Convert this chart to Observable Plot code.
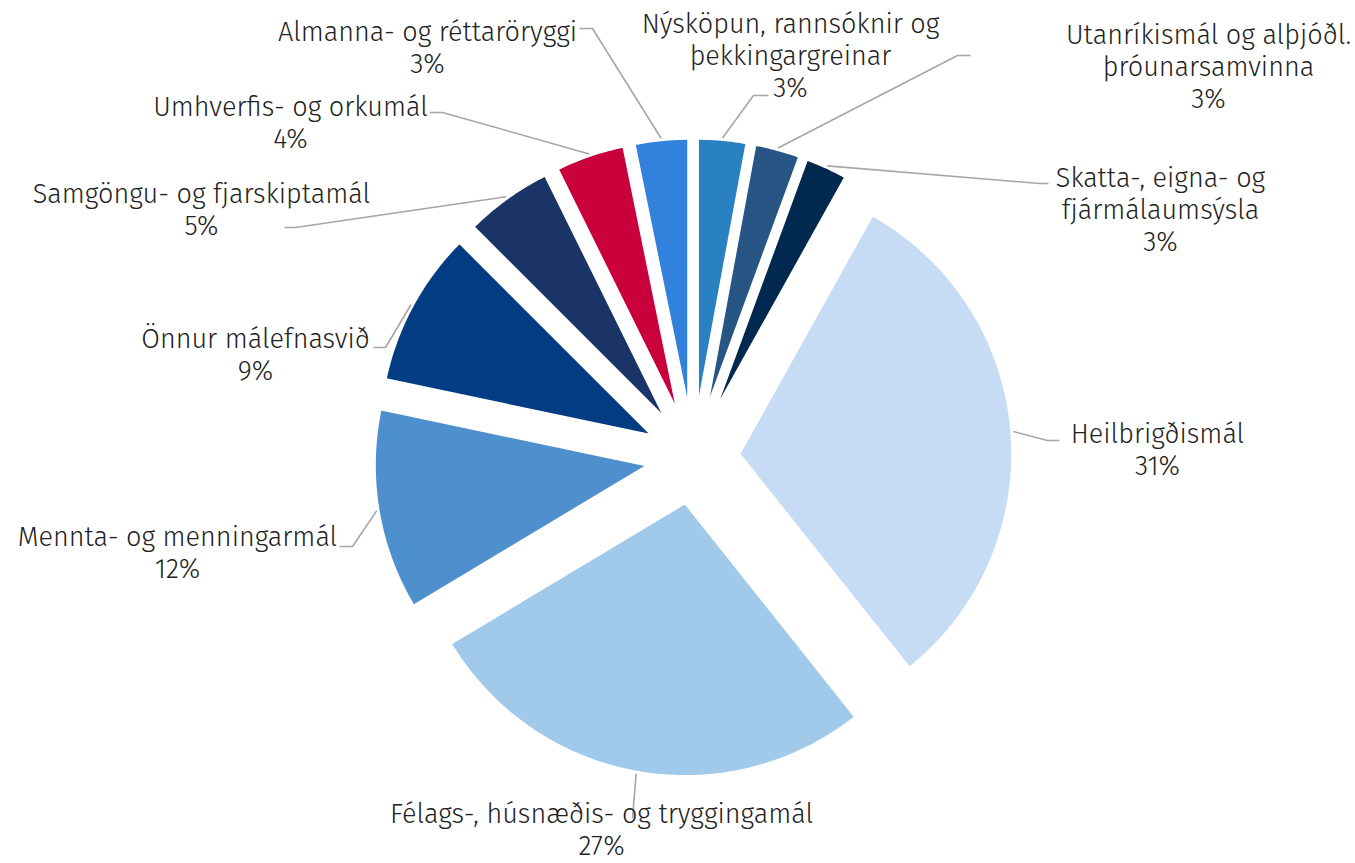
<!DOCTYPE html>
<html><head><meta charset="utf-8">
<script src="https://cdn.jsdelivr.net/npm/d3@7"></script>
<script src="https://cdn.jsdelivr.net/npm/@observablehq/plot@0.6"></script>
<style>html,body{margin:0;padding:0;background:#fff;} #chart svg{display:block}</style>
</head><body><div id="chart"></div>
<script>
// ---- data ----
const categories = [
  "Nýsköpun, rannsóknir og\nþekkingargreinar",
  "Utanríkismál og alþjóðl.\nþróunarsamvinna",
  "Skatta-, eigna- og\nfjármálaumsýsla",
  "Heilbrigðismál",
  "Félags-, húsnæðis- og tryggingamál",
  "Mennta- og menningarmál",
  "Önnur málefnasvið",
  "Samgöngu- og fjarskiptamál",
  "Umhverfis- og orkumál",
  "Almanna- og réttaröryggi"
];
const shares = [2.9, 2.7, 2.5, 31.2, 27.1, 11.9, 9.2, 5.2, 4.1, 3.2];
const palette = ["#2a81c2", "#275685", "#01284f", "#c5dcf4", "#a0c9ea", "#4e8fcd", "#023c82", "#1b3467", "#c9003b", "#3281dd"];

// ---- layout (page pixels) ----
const W = 1355, H = 863;
const CX = 692.8, CY = 457.2, R = 274, EXPLODE = 45.6, LEAD_GAP = 1.5;
// [text x, text block center y, elbow x, elbow y, end x]
const labelLayout = [
  [790, 54, 753, 95, 768],
  [1208, 65, 957, 55, 970],
  [1160, 208, 1039, 183, 1048],
  [1157, 448, 1047, 440, 1059],
  [601, 828, 632, 818, 632],
  [177, 551, 352, 546, 339],
  [255, 353, 385, 347, 373],
  [201, 208, 295, 227, 284],
  [290, 121, 442, 112, 429],
  [427, 46, 592, 28, 579]
];
const px = x => x - CX;      // page x -> chart x
const py = y => CY - y;      // page y -> chart y (up)

const rows = categories.map((name, i) => ({name, value: shares[i]}));
const arcs = d3.pie().value(d => d.value).sort(null).startAngle(0).endAngle(2 * Math.PI)(rows);

const slicePts = [];
const leaderPts = [];
const labels = [];
arcs.forEach((a, i) => {
  const name = a.data.name;
  const mid = (a.startAngle + a.endAngle) / 2;
  const ox = EXPLODE * Math.sin(mid), oy = EXPLODE * Math.cos(mid);
  const n = Math.max(4, Math.ceil((a.endAngle - a.startAngle) / (Math.PI / 360)));
  slicePts.push({name, x: ox, y: oy});
  for (let k = 0; k <= n; k++) {
    const t = a.startAngle + (a.endAngle - a.startAngle) * k / n;
    slicePts.push({name, x: ox + R * Math.sin(t), y: oy + R * Math.cos(t)});
  }
  slicePts.push({name, x: ox, y: oy});
  const L = labelLayout[i];
  const rs = EXPLODE + R + LEAD_GAP;
  leaderPts.push({name, x: rs * Math.sin(mid), y: rs * Math.cos(mid)});
  leaderPts.push({name, x: px(L[2]), y: py(L[3])});
  leaderPts.push({name, x: px(L[4]), y: py(L[3])});
  labels.push({name, x: px(L[0]), y: py(L[1]), text: `${name}\n${Math.round(a.data.value)}%`});
});

const chart = Plot.plot({
  width: W, height: H,
  margin: 0,
  x: {domain: [px(0), px(W)], axis: null},
  y: {domain: [py(H), py(0)], axis: null},
  color: {domain: categories, range: palette},
  style: {background: "#fff", fontFamily: "'Fira Sans', Roboto, 'Open Sans', sans-serif"},
  marks: [
    Plot.line(slicePts, {x: "x", y: "y", z: "name", fill: "name", stroke: "white", strokeWidth: 3, strokeLinejoin: "round", curve: "linear"}),
    Plot.line(leaderPts, {x: "x", y: "y", z: "name", stroke: "#a6a6a6", strokeWidth: 1.6, strokeLinecap: "butt", strokeLinejoin: "miter", curve: "linear"}),
    Plot.text(labels, {x: "x", y: "y", text: "text", textAnchor: "middle", lineAnchor: "middle", fontSize: 27, lineHeight: 1.185, fontWeight: 300, fill: "#222"})
  ]
});
document.getElementById("chart").appendChild(chart);
</script>
</body></html>
